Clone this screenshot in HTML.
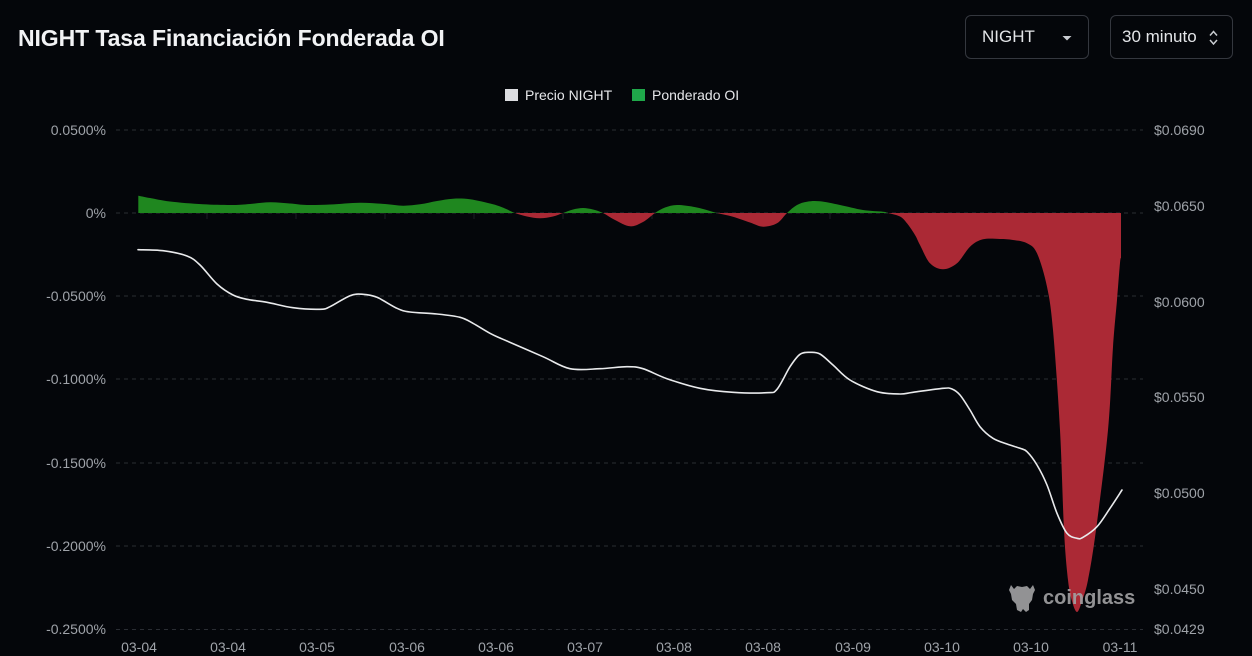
<!DOCTYPE html>
<html>
<head>
<meta charset="utf-8">
<style>
  html,body{margin:0;padding:0;background:#04060a;}
  body{width:1252px;height:656px;overflow:hidden;position:relative;font-family:"Liberation Sans",sans-serif;}
  .title{position:absolute;left:18px;top:25px;font-size:23px;font-weight:bold;color:#f2f3f5;letter-spacing:-0.1px;white-space:nowrap;}
  .box{position:absolute;top:15px;height:42px;border:1px solid #34373e;border-radius:6px;color:#e3e5e8;font-size:17px;line-height:42px;box-sizing:content-box;}
  .b1{left:965px;width:122px;}
  .b2{left:1110px;width:121px;}
  .b1 span{position:absolute;left:16px;}
  .b2 span{position:absolute;left:11px;}
  svg{position:absolute;left:0;top:0;}
</style>
</head>
<body>
<div class="title">NIGHT Tasa Financiación Fonderada OI</div>
<div class="box b1"><span>NIGHT</span></div>
<div class="box b2"><span>30 minuto</span></div>

<svg width="1252" height="656" viewBox="0 0 1252 656" xmlns="http://www.w3.org/2000/svg">
  <defs>
    <clipPath id="above"><rect x="0" y="0" width="1252" height="213"/></clipPath>
    <clipPath id="below"><rect x="0" y="213" width="1252" height="443"/></clipPath>
  </defs>

  <polygon points="1062.5,36 1071.5,36 1067,40.5" fill="#c9ccd1"/>
  <polyline points="1210,35.5 1213.5,31.5 1217,35.5" fill="none" stroke="#c9ccd1" stroke-width="1.5"/>
  <polyline points="1210,40 1213.5,44 1217,40" fill="none" stroke="#c9ccd1" stroke-width="1.5"/>

  <rect x="505" y="89" width="13" height="12" fill="#dcdde1"/>
  <text x="525" y="100" font-size="14" fill="#e6e7ea" font-family="Liberation Sans, sans-serif">Precio NIGHT</text>
  <rect x="632" y="89" width="13" height="12" fill="#1fa84a"/>
  <text x="652" y="100" font-size="14" fill="#e6e7ea" font-family="Liberation Sans, sans-serif">Ponderado OI</text>

  <g stroke="#2a2d33" stroke-width="1" stroke-dasharray="4,4">
    <line x1="116" y1="130" x2="1143" y2="130"/>
    <line x1="116" y1="213" x2="1143" y2="213"/>
    <line x1="116" y1="296" x2="1143" y2="296"/>
    <line x1="116" y1="379" x2="1143" y2="379"/>
    <line x1="116" y1="463" x2="1143" y2="463"/>
    <line x1="116" y1="546" x2="1143" y2="546"/>
    <line x1="116" y1="629.5" x2="1143" y2="629.5"/>
  </g>
  <g stroke="#1c1f24" stroke-width="1">
    <line x1="207" y1="213" x2="207" y2="219"/>
    <line x1="296" y1="213" x2="296" y2="219"/>
    <line x1="385" y1="213" x2="385" y2="219"/>
    <line x1="474" y1="213" x2="474" y2="219"/>
    <line x1="563" y1="213" x2="563" y2="219"/>
    <line x1="652" y1="213" x2="652" y2="219"/>
    <line x1="741" y1="213" x2="741" y2="219"/>
    <line x1="830" y1="213" x2="830" y2="219"/>
    <line x1="919" y1="213" x2="919" y2="219"/>
    <line x1="1008" y1="213" x2="1008" y2="219"/>
    <line x1="1097" y1="213" x2="1097" y2="219"/>
  </g>

  <path id="areaG" clip-path="url(#above)" fill="#1f871f" d="M138.3,213 L138.3,195.7 L170,201.5 L203,204.3 L233,205 L270,202.3 L307,205 L360,202.7 L403,205.7 L437,201 L453,198.7 L470,199.3 L493,204.3 L515,213 L540,218.3 L563,213 L583,208 L603,213 L630,226.3 L655,213 L677,205 L693,206.7 L717,213 L763,226.7 L787,213 L807,201.7 L820,201.3 L840,205 L863,210 L888,213 L1121,213 Z"/>
  <path id="areaR" clip-path="url(#below)" fill="#ab2935" d="M138.3,213 L515,213 L540,218.3 L563,213 L603,213 L630,226.3 L655,213 L717,213 L763,226.7 L787,213 L888,213 L907,223.3 L920,245 L930,263.3 L943,269.3 L957,263.3 L970,246.7 L983,239.3 L1013,240 L1027,243.3 L1037,253.3 L1047,286.7 L1053,330 L1060,430 L1064,530 L1068,580 L1077,612 L1088,580 L1096,530 L1108,430 L1113,347 L1120,263 L1121,258 L1121,213 Z"/>

  <path id="price" fill="none" stroke="#e9eaec" stroke-width="1.6" stroke-linejoin="round" stroke-linecap="round" d="M138,249.7 L163,250.7 L187,256 L200,265 L217,284 L233,295 L247,299.3 L267,302.3 L293,307.7 L320,309.3 L330,306.7 L350,295.7 L363,294.3 L377,297.3 L397,308.3 L410,312 L437,314 L460,317.3 L473,323.3 L490,333.3 L503,339.3 L543,356.7 L570,368.7 L600,368.7 L627,366.7 L643,368.7 L667,378.7 L700,388.3 L733,392.3 L767,392.7 L777,389.3 L790,366.7 L800,354.3 L810,352.3 L820,354 L833,365 L850,380 L877,391.7 L900,394 L913,392.3 L943,388.3 L952,389 L960,395 L970,410 L980,426.7 L993,438.3 L1007,444 L1020,448.3 L1027,451.7 L1037,465 L1047,485 L1057,513.3 L1067,533.3 L1077,538.3 L1083,537.3 L1097,526.7 L1110,508.3 L1122,490"/>

  <g font-size="14" fill="#9fa3a9" text-anchor="end" font-family="Liberation Sans, sans-serif">
    <text x="106" y="135">0.0500%</text>
    <text x="106" y="218">0%</text>
    <text x="106" y="301">-0.0500%</text>
    <text x="106" y="384">-0.1000%</text>
    <text x="106" y="468">-0.1500%</text>
    <text x="106" y="551">-0.2000%</text>
    <text x="106" y="634">-0.2500%</text>
  </g>
  <g font-size="14" fill="#9fa3a9" font-family="Liberation Sans, sans-serif">
    <text x="1154" y="135">$0.0690</text>
    <text x="1154" y="211">$0.0650</text>
    <text x="1154" y="307">$0.0600</text>
    <text x="1154" y="402">$0.0550</text>
    <text x="1154" y="498">$0.0500</text>
    <text x="1154" y="594">$0.0450</text>
    <text x="1154" y="634">$0.0429</text>
  </g>
  <g font-size="14" fill="#9fa3a9" text-anchor="middle" font-family="Liberation Sans, sans-serif">
    <text x="139" y="652">03-04</text>
    <text x="228" y="652">03-04</text>
    <text x="317" y="652">03-05</text>
    <text x="407" y="652">03-06</text>
    <text x="496" y="652">03-06</text>
    <text x="585" y="652">03-07</text>
    <text x="674" y="652">03-08</text>
    <text x="763" y="652">03-08</text>
    <text x="853" y="652">03-09</text>
    <text x="942" y="652">03-10</text>
    <text x="1031" y="652">03-10</text>
    <text x="1120" y="652">03-11</text>
  </g>

  <g fill="#a2a2a4" opacity="0.9">
    <path d="M1011,585 L1014,589 L1017,586 L1022,587 L1027,586 L1030,589 L1033,585 L1035,590 L1033,594 L1032,600 L1029,604 L1029,610 L1026,612 L1023,609 L1021,612 L1017,610 L1016,604 L1012,600 L1011,594 L1009,590 Z"/>
    <text x="1043" y="604" font-size="20" font-weight="bold" font-family="Liberation Sans, sans-serif">coinglass</text>
  </g>
</svg>

<script>
(function(){
  function smooth(pts){
    var n=pts.length, d='M'+pts[0][0]+','+pts[0][1];
    for(var i=0;i<n-1;i++){
      var p0=pts[Math.max(i-1,0)],p1=pts[i],p2=pts[i+1],p3=pts[Math.min(i+2,n-1)];
      var c1x=p1[0]+(p2[0]-p0[0])/6,c1y=p1[1]+(p2[1]-p0[1])/6;
      var c2x=p2[0]-(p3[0]-p1[0])/6,c2y=p2[1]-(p3[1]-p1[1])/6;
      d+=' C'+c1x.toFixed(2)+','+c1y.toFixed(2)+' '+c2x.toFixed(2)+','+c2y.toFixed(2)+' '+p2[0]+','+p2[1];
    }
    return d;
  }
  var price=[[138,249.7],[163,250.7],[187,256],[200,265],[217,284],[233,295],[247,299.3],[267,302.3],[293,307.7],[320,309.3],[330,306.7],[350,295.7],[363,294.3],[377,297.3],[397,308.3],[410,312],[437,314],[460,317.3],[473,323.3],[490,333.3],[503,339.3],[543,356.7],[570,368.7],[600,368.7],[627,366.7],[643,368.7],[667,378.7],[700,388.3],[733,392.3],[767,392.7],[777,389.3],[790,366.7],[800,354.3],[810,352.3],[820,354],[833,365],[850,380],[877,391.7],[900,394],[913,392.3],[943,388.3],[952,389],[960,395],[970,410],[980,426.7],[993,438.3],[1007,444],[1020,448.3],[1027,451.7],[1037,465],[1047,485],[1057,513.3],[1067,533.3],[1077,538.3],[1083,537.3],[1097,526.7],[1110,508.3],[1122,490]];
  var area=[[138.3,195.7],[150,198],[170,201.5],[203,204.3],[233,205],[250,204],[270,202.3],[290,203.5],[307,205],[330,204.5],[360,202.7],[385,204],[403,205.7],[420,204.3],[437,201],[453,198.7],[470,199.3],[493,204.3],[505,208.5],[515,213],[527,216.5],[540,218.3],[553,216.5],[563,213],[573,209.5],[583,208],[593,209.5],[603,213],[615,220],[630,226.3],[643,222],[655,213],[665,207.5],[677,205],[693,206.7],[705,209.5],[717,213],[733,216.7],[750,222.5],[763,226.7],[777,223.3],[787,213],[797,205],[807,201.7],[820,201.3],[840,205],[863,210],[883,211.7],[888,213],[900,216.5],[907,223.3],[915,235],[920,245],[930,263.3],[943,269.3],[957,263.3],[970,246.7],[983,239.3],[1000,239],[1013,240],[1027,243.3],[1037,253.3],[1047,286.7],[1053,330],[1060,430],[1064,530],[1068,580],[1072,601],[1077,612],[1082,601],[1088,580],[1096,530],[1108,430],[1113,347],[1117,300],[1120,263],[1121,258]];
  document.getElementById('price').setAttribute('d',smooth(price));
  var a='M138.3,213 L'+smooth(area).slice(1)+' L1121,213 Z';
  document.getElementById('areaG').setAttribute('d',a);
  document.getElementById('areaR').setAttribute('d',a);
})();
</script>
</body>
</html>
